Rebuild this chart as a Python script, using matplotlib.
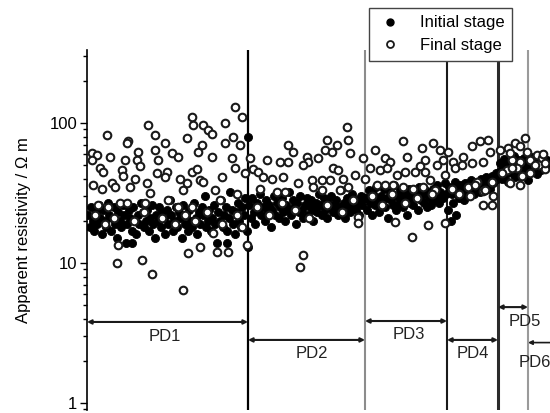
import numpy as np
import matplotlib.pyplot as plt
from matplotlib import ticker
from matplotlib.lines import Line2D

plt.rcParams['font.family'] = ['Liberation Sans', 'DejaVu Sans']
plt.rcParams['font.size'] = 12

# domain boundaries along the profile (arbitrary position units)
bounds = [0, 161, 278, 360, 411, 441, 463]
line_colors = ['black', '#8c8c8c', '#1a1a1a', '#2b2b2b', '#9a9a9a']
line_widths = [1.6, 1.5, 1.5, 2.2, 1.5]

# PD labels, arrow heights and label positions
pd_names = ['PD1', 'PD2', 'PD3', 'PD4', 'PD5', 'PD6']
arrow_level = [3.79, 2.82, 3.85, 2.82, 4.84, 2.7]
label_x = [78, 225, 322, 386, 438, 448]
label_level = [2.96, 2.24, 3.06, 2.24, 3.79, 1.96]

# initial stage, sequential readings inside each domain (ohm m)
init_pd1 = [22, 18, 25, 20, 17, 23, 19, 26, 21, 16, 24, 20, 18, 27, 22, 17, 21, 25, 19, 15,
            23, 20, 18, 26, 22, 14, 19, 24, 21, 17, 25, 20, 16, 22, 19, 27, 23, 18, 20, 24,
            17, 21, 26, 19, 15, 22, 20, 25, 18, 23, 21, 16, 24, 19, 28, 22, 17, 20, 25, 18,
            23, 21, 15, 26, 19, 22, 17, 24, 20, 18, 27, 21, 16, 23, 19, 25, 22, 30, 18, 20,
            24, 17, 21, 26, 19, 14, 23, 20, 28, 18, 22, 25, 17, 21, 32, 24, 19, 16, 23, 27,
            20, 18, 25, 22, 29, 17]
init_pd2 = [26, 21, 29, 23, 19, 27, 24, 31, 22, 25, 20, 28, 23, 26, 18, 24, 30, 22, 27, 21,
            25, 29, 23, 20, 26, 24, 32, 22, 28, 25, 19, 27, 23, 30, 24, 21, 26, 29, 22, 25,
            28, 20, 24, 27, 23, 31, 26, 22, 29, 24, 21, 27, 25, 30, 23, 26, 28, 22, 25, 33,
            24, 27, 21, 29, 26, 23, 31, 25, 28, 24, 27, 22, 30, 26, 29]
init_pd3 = [29, 24, 33, 27, 22, 31, 26, 35, 28, 23, 30, 27, 34, 25, 29, 21, 32, 28, 26, 36,
            24, 30, 27, 33, 29, 25, 31, 28, 22, 34, 27, 30, 26, 32, 29, 24, 35, 28, 31, 27,
            33, 25, 30, 29, 26, 34, 31, 28, 36, 27, 32, 30, 29, 37, 31]
init_pd4 = [24, 35, 20, 31, 27, 38, 22, 33, 29, 36, 30, 34, 28, 37, 32, 35, 30, 39, 33, 36,
            31, 38, 34, 36, 32, 40, 35, 37, 33, 41, 36, 38, 34, 42, 37, 39, 44, 40]
init_pd56 = [45, 52, 40, 48, 55, 43, 50, 38, 47, 53, 44, 58, 41, 49, 46, 54, 42, 51, 47, 56,
             44, 50, 39, 48, 53, 45, 57, 47, 52, 43, 55, 49, 46, 60, 50, 48, 54, 51]
init_extra = [(161, 80), (161, 13), (45, 14), (140, 14)]

# final stage readings (position, ohm m)
final_pd1 = [(20, 82), (61, 96), (105, 111), (106, 97), (68, 82), (41, 74), (40, 72), (78, 72),
             (100, 78), (116, 97), (5, 61), (10, 59), (5, 54), (23, 57), (38, 54), (51, 62),
             (50, 54), (68, 64), (71, 54), (85, 61), (91, 57), (111, 62), (13, 48), (16, 45),
             (35, 46), (36, 42), (53, 49), (48, 40), (70, 44), (80, 45), (78, 41), (93, 40),
             (105, 45), (110, 47), (6, 36), (15, 34), (25, 37), (28, 35), (43, 35), (60, 37),
             (63, 31.5), (96, 33), (100, 37), (113, 39), (11, 26), (21, 25), (33, 27), (40, 27),
             (58, 27), (81, 28), (91, 25), (105, 25), (31, 13.4), (30, 10), (55, 10.5), (65, 8.4),
             (101, 11.7), (113, 13.1), (96, 6.4), (121, 89), (125, 84), (146, 80), (138, 72),
             (153, 70), (115, 70), (125, 57.5), (145, 56), (148, 48), (158, 44), (148, 131),
             (155, 111), (138, 100), (135, 41), (116, 38), (128, 33), (133, 28), (150, 31),
             (126, 16.3), (130, 12), (141, 12), (160, 13.4),
             (8, 22), (18, 19), (27, 21), (47, 20), (57, 23), (75, 21), (88, 19), (98, 22),
             (108, 20), (120, 23), (135, 19), (150, 22), (155, 18)]
final_pd2 = [(163, 56), (166, 47), (171, 45), (176, 41), (180, 54), (185, 40), (196, 41), (201, 70),
             (206, 62), (193, 53), (201, 53), (220, 57.5), (221, 53), (216, 50), (231, 56),
             (173, 34), (190, 32), (198, 32), (211, 37), (225, 39), (226, 35), (216, 11.4),
             (213, 9.4), (260, 94), (261, 76), (240, 76), (238, 64), (245, 62), (250, 70),
             (263, 61), (246, 47.5), (251, 46), (276, 56), (235, 39), (243, 39), (256, 40),
             (268, 42.5), (235, 33), (253, 33), (261, 35), (271, 21.4), (271, 19.2),
             (170, 25), (182, 22), (195, 27), (208, 24), (222, 21), (240, 26), (255, 23), (266, 28)]
final_pd3 = [(288, 64), (283, 47.5), (293, 46), (298, 56), (303, 53), (300, 47.5), (316, 74),
             (320, 57.5), (335, 66), (338, 54), (333, 49), (346, 72), (310, 42.5), (318, 45),
             (328, 45), (338, 45), (278, 40), (290, 36), (298, 36), (306, 36), (316, 35),
             (326, 34), (336, 35), (341, 18.7), (325, 15.4), (308, 19.7), (353, 64), (356, 54),
             (350, 50), (343, 39), (348, 33), (358, 42.5), (358, 19.2),
             (285, 30), (295, 26), (305, 31), (318, 27), (330, 29), (345, 31)]
final_pd4 = [(361, 62), (366, 53), (376, 57.5), (368, 47.5), (375, 50), (385, 51.5), (396, 53),
             (385, 68), (393, 74), (401, 76), (403, 62), (381, 35), (390, 38), (396, 32.5),
             (383, 30), (396, 26), (405, 26), (406, 30),
             (365, 34), (372, 31), (388, 36), (398, 33), (405, 38)]
final_pd56 = [(413, 64), (421, 66), (428, 72), (438, 78), (433, 68), (425, 54), (433, 53),
              (443, 54), (450, 59), (455, 56), (440, 62), (420, 46), (430, 47.5), (433, 36),
              (423, 37), (443, 43.7), (423, 61), (456, 60), (452, 50), (458, 47),
              (415, 44), (425, 48), (435, 42), (448, 50), (458, 52)]

fig = plt.figure(figsize=(5.5, 4.13), dpi=100)
ax = fig.add_axes([87 / 550, 3 / 413, 463 / 550, 360 / 413])

# initial stage positions spread evenly through each domain
init_groups = [(init_pd1, 0, 161), (init_pd2, 161, 278), (init_pd3, 278, 360),
               (init_pd4, 360, 411), (init_pd56, 411, 462)]
ix, iy = [], []
for vals, a, b in init_groups:
    ix.extend(np.linspace(a + 1, b - 1, len(vals)))
    iy.extend(vals)
ex = np.array(init_extra)
ix = np.concatenate([ix, ex[:, 0]])
iy = np.concatenate([iy, ex[:, 1]])

fin = np.array(final_pd1 + final_pd2 + final_pd3 + final_pd4 + final_pd56)

# domain boundary lines
for xb, c, lw in zip(bounds[1:-1], line_colors, line_widths):
    ax.axvline(xb, color=c, lw=lw, zorder=1)

ax.scatter(ix, iy, s=34, color='black', edgecolors='black', linewidths=0.6, zorder=3)
ax.scatter(fin[:, 0], fin[:, 1], s=30, facecolors='white', edgecolors='#1a1a1a',
           linewidths=1.5, zorder=4)

# domain arrows and labels
for i, name in enumerate(pd_names):
    if i < 5:
        ax.annotate('', xy=(bounds[i], arrow_level[i]), xytext=(bounds[i + 1], arrow_level[i]),
                    arrowprops=dict(arrowstyle='<|-|>', color='#1a1a1a', lw=1.5,
                                    mutation_scale=6, shrinkA=0, shrinkB=0))
    else:
        ax.annotate('', xy=(bounds[5], arrow_level[i]), xytext=(bounds[6] + 5, arrow_level[i]),
                    arrowprops=dict(arrowstyle='-|>', color='#1a1a1a', lw=1.2,
                                    mutation_scale=6, shrinkA=0, shrinkB=0),
                    annotation_clip=False)
    ax.text(label_x[i], label_level[i], name, ha='center', va='center', fontsize=12,
            color='#222222')

ax.set_yscale('log')
ax.set_ylim(0.891, 332)
ax.set_xlim(0, 463)
ax.yaxis.set_major_locator(ticker.LogLocator(base=10, numticks=5))
ax.yaxis.set_major_formatter(ticker.FuncFormatter(lambda v, p: f'{v:g}'))
ax.yaxis.set_minor_locator(ticker.LogLocator(base=10, subs=np.arange(2, 10), numticks=20))
ax.yaxis.set_minor_formatter(ticker.NullFormatter())
ax.tick_params(axis='y', which='major', length=5, width=1, pad=2, labelsize=12)
ax.tick_params(axis='y', which='minor', length=3, width=1)
ax.set_xticks([])
for side in ['top', 'right', 'bottom']:
    ax.spines[side].set_visible(False)
ax.spines['left'].set_linewidth(1.2)
ax.set_ylabel('Apparent resistivity / \u03a9 m', fontsize=12)
ax.yaxis.set_label_coords(-0.12, 0.5)

handles = [Line2D([], [], marker='o', ls='none', color='black', markersize=5),
           Line2D([], [], marker='o', ls='none', markerfacecolor='white',
                  markeredgecolor='#1a1a1a', markeredgewidth=1.3, markersize=5)]
leg = fig.legend(handles, ['Initial stage', 'Final stage'], loc='upper left',
                 bbox_to_anchor=(369 / 550, 1 - 8 / 413), borderaxespad=0,
                 fancybox=False, framealpha=1, edgecolor='#444444', fontsize=12,
                 borderpad=0.45, handlelength=1.6, handletextpad=1.0, labelspacing=0.45)
leg.get_frame().set_linewidth(1.0)

fig.savefig('out.png', dpi=100)
